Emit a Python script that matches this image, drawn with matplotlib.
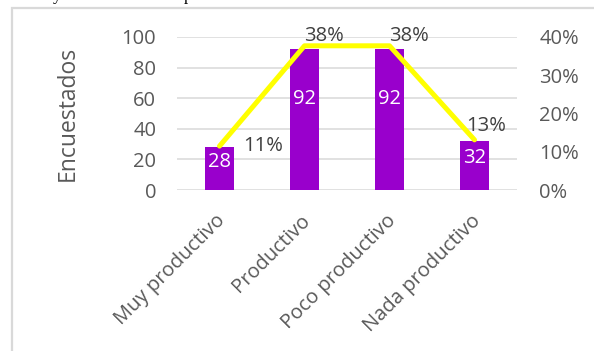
import matplotlib.pyplot as plt
import matplotlib.transforms as mtransforms
from matplotlib.patches import Rectangle
from matplotlib.ticker import FuncFormatter, MultipleLocator

categorias = ['Muy productivo', 'Productivo', 'Poco productivo', 'Nada productivo']
encuestados = [28, 92, 92, 32]
porcentaje = [0.1148, 0.3770, 0.3770, 0.1311]

plt.rcParams['font.family'] = ['Open Sans', 'DejaVu Sans']

morado = '#9900CC'
amarillo = '#FFFF00'
gris = '#595959'
rejilla = '#D9D9D9'
fs = 14.5

fig = plt.figure(figsize=(5.94, 3.51), dpi=100)
W, H = 594, 351

# marco del gráfico
fig.patches.append(Rectangle((12 / W, -0.1), 1.1, (H - 8) / H + 0.1, transform=fig.transFigure,
                             fill=False, edgecolor=rejilla, linewidth=1.6))

# restos de la línea de texto superior
fig.text(57 / W, 1.0, 'y', family='Liberation Serif', fontsize=12, ha='center', va='baseline',
         color='black')
fig.text(184 / W, 1.0, 'p', family='Liberation Serif', fontsize=12, ha='left', va='baseline',
         color='black')

ax = fig.add_axes([177 / W, (H - 190) / H, 340 / W, 153 / H])
x = list(range(len(categorias)))
ax.bar(x, encuestados, width=0.33, color=morado, zorder=2)
for xi, v in zip(x, encuestados):
    ax.text(xi, v * 0.65, str(v), color='white', fontsize=fs, ha='center', va='center', zorder=3)

ax.set_xlim(-0.5, 3.5)
ax.set_ylim(0, 100)
ax.yaxis.set_major_locator(MultipleLocator(20))
ax.grid(axis='y', color=rejilla, linewidth=1.1, zorder=0)
ax.set_axisbelow(True)
for s in ax.spines.values():
    s.set_visible(False)
ax.tick_params(axis='both', length=0, labelsize=fs, labelcolor=gris)
ax.tick_params(axis='y', pad=15)
ax.set_xticks(x)
ax.set_xticklabels(categorias, rotation=45, ha='right', va='top', rotation_mode='anchor')
ax.tick_params(axis='x', pad=15)
desplazar = mtransforms.ScaledTranslation(-4 / 100, 0, fig.dpi_scale_trans)
for lab in ax.get_xticklabels():
    lab.set_transform(lab.get_transform() + desplazar)
ax.set_ylabel('Encuestados', fontsize=16.5, color=gris, labelpad=30)

ax2 = ax.twinx()
ax2.plot(x, porcentaje, color=amarillo, linewidth=3.6, solid_capstyle='round', zorder=4)
ax2.set_ylim(0, 0.4)
ax2.yaxis.set_major_locator(MultipleLocator(0.1))
ax2.yaxis.set_major_formatter(FuncFormatter(lambda v, p: f'{v * 100:.0f}%'))
for s in ax2.spines.values():
    s.set_visible(False)
ax2.tick_params(axis='y', length=0, labelsize=fs, labelcolor=gris, pad=16)

desplazamientos = [(44, 0), (19, 10), (19, 10), (12, 14)]
for xi, p, d in zip(x, porcentaje, desplazamientos):
    ax2.annotate(f'{p * 100:.0f}%', (xi, p), xytext=d, textcoords='offset pixels',
                 ha='center', va='center', fontsize=fs, color='#404040', zorder=5)

fig.savefig('out.png', dpi=100)
